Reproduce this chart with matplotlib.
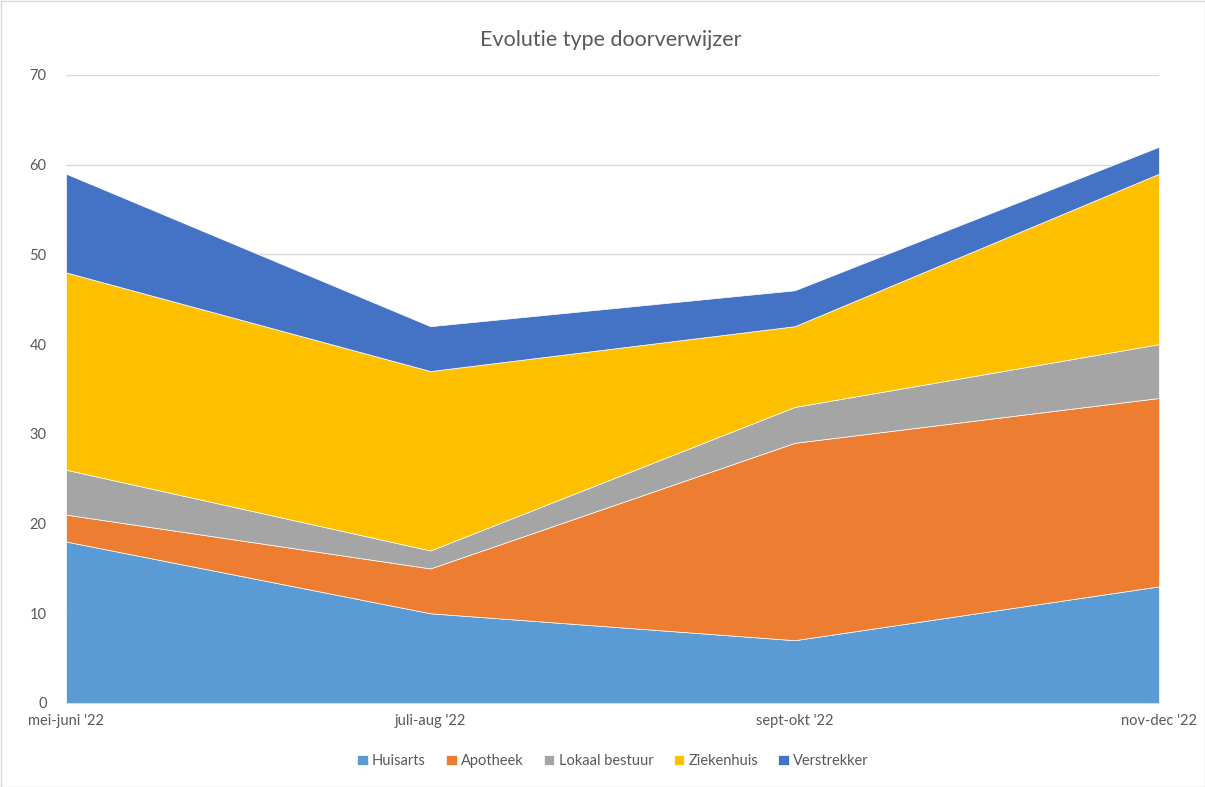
import matplotlib
matplotlib.use("Agg")
import matplotlib.pyplot as plt
import numpy as np
from matplotlib.patches import Rectangle

categories = ["mei-juni '22", "juli-aug '22", "sept-okt '22", "nov-dec '22"]
series_names = ["Huisarts", "Apotheek", "Lokaal bestuur", "Ziekenhuis", "Verstrekker"]
huisarts = [18, 10, 7, 13]
apotheek = [3, 5, 22, 21]
lokaal_bestuur = [5, 2, 4, 6]
ziekenhuis = [22, 20, 9, 19]
verstrekker = [11, 5, 4, 3]
colors = ["#5B9BD5", "#ED7D31", "#A5A5A5", "#FFC000", "#4472C4"]

plt.rcParams['font.family'] = ['Lato', 'DejaVu Sans']

fig = plt.figure(figsize=(12.05, 7.87), dpi=100)
ax = fig.add_axes([66/1205, (787-703)/787, (1159-66)/1205, (703-75)/787])

x = np.arange(len(categories))
ax.stackplot(x, huisarts, apotheek, lokaal_bestuur, ziekenhuis, verstrekker,
             colors=colors, labels=series_names, edgecolor="white", linewidth=0.5, zorder=2)

ax.set_xlim(0, len(categories) - 1)
ax.set_ylim(0, 70)
ax.set_yticks(range(0, 71, 10))
ax.set_xticks(x)
ax.set_xticklabels(categories)
ax.yaxis.grid(True, color="#D9D9D9", linewidth=1, zorder=0)
ax.set_axisbelow(True)
for s in ["top", "right", "left"]:
    ax.spines[s].set_visible(False)
ax.spines["bottom"].set_color("#D9D9D9")
ax.tick_params(axis="both", length=0, colors="#595959", labelsize=10.5)
ax.tick_params(axis="y", pad=14)
ax.tick_params(axis="x", pad=8)

fig.text(611/1205, 1 - 40/787, "Evolutie type doorverwijzer", ha="center", va="center",
         fontsize=15.5, color="#595959")

handles, labels = ax.get_legend_handles_labels()
leg = fig.legend(handles, labels, loc="center", bbox_to_anchor=(613/1205, 1 - 761/787),
                 ncol=5, frameon=False, fontsize=10.5, handlelength=0.7, handleheight=0.7,
                 handletextpad=0.3, columnspacing=1.4, labelcolor="#595959")

fig.patches.append(Rectangle((0.5/1205, 0.5/787), 1 - 1/1205, 1 - 1/787, transform=fig.transFigure,
                             fill=False, edgecolor="#D9D9D9", linewidth=1))

fig.savefig("out.png", dpi=100, facecolor="white")
